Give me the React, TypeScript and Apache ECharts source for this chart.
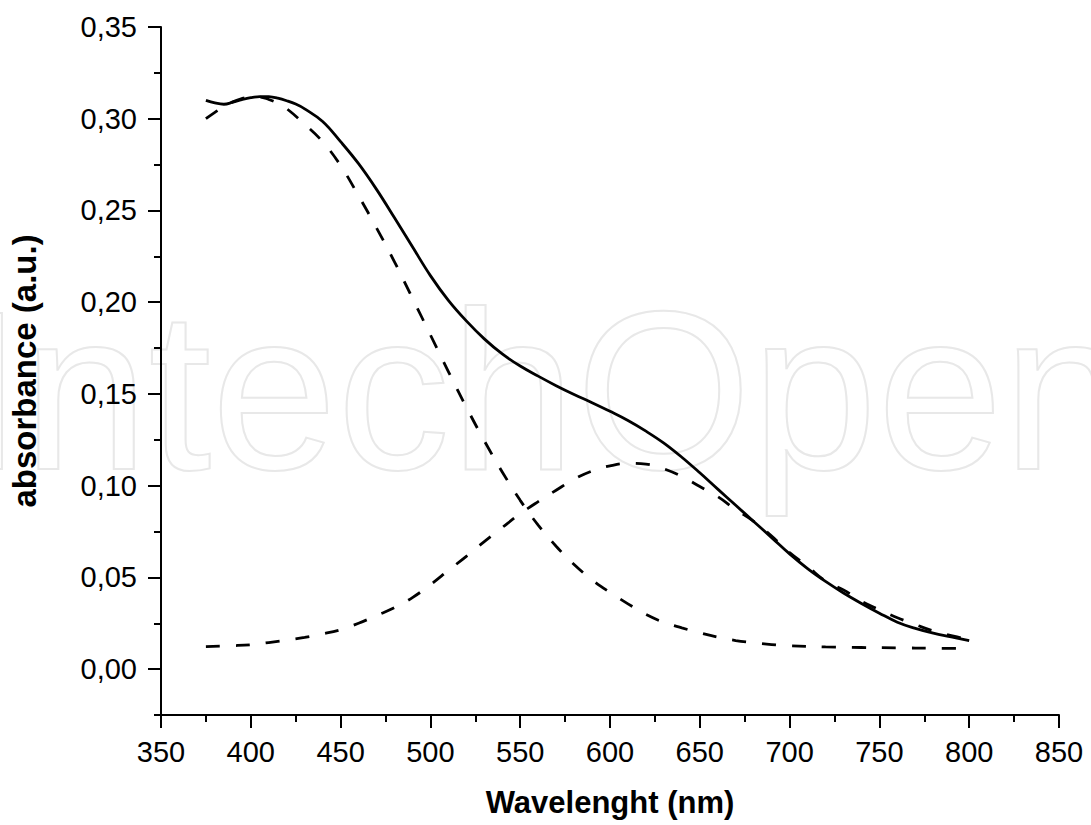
import React, { useEffect, useRef } from "react";
import * as echarts from "echarts";

// Measured spectrum (solid line)
const measuredWavelength = [375, 380, 385, 390, 395, 400, 405, 410, 415, 420, 425, 430, 440, 450, 460, 470, 480, 490, 500, 510, 520, 530, 540, 550, 560, 570, 580, 590, 600, 610, 620, 630, 640, 650, 660, 670, 680, 690, 700, 710, 720, 730, 740, 750, 760, 770, 780, 790, 800];
const measuredAbsorbance = [0.310, 0.3086, 0.3079, 0.309, 0.3104, 0.3115, 0.3121, 0.3120, 0.3112, 0.3098, 0.3080, 0.3054, 0.2985, 0.2875, 0.2755, 0.2615, 0.2460, 0.2302, 0.2145, 0.2010, 0.1898, 0.1800, 0.1718, 0.1652, 0.1597, 0.1545, 0.1497, 0.1452, 0.1405, 0.1355, 0.1297, 0.1232, 0.1155, 0.1070, 0.0981, 0.0893, 0.0805, 0.0717, 0.0628, 0.0548, 0.0478, 0.0415, 0.0358, 0.0305, 0.0256, 0.0222, 0.0196, 0.0176, 0.0156];

// Fitted band 1 (dashed, short-wavelength)
const band1Wavelength = [375, 380, 385, 390, 395, 400, 405, 410, 415, 420, 430, 440, 450, 460, 470, 480, 490, 500, 510, 520, 530, 540, 550, 560, 570, 580, 590, 600, 610, 620, 630, 640, 650, 660, 670, 680, 690, 700, 720, 740, 760, 780, 800];
const band1Absorbance = [0.300, 0.3035, 0.3065, 0.3092, 0.3110, 0.3118, 0.3118, 0.3105, 0.3085, 0.3055, 0.2970, 0.2875, 0.2745, 0.2580, 0.2405, 0.2220, 0.2022, 0.1822, 0.1622, 0.1428, 0.1245, 0.1075, 0.0920, 0.0785, 0.0670, 0.0570, 0.0487, 0.0418, 0.0356, 0.0298, 0.0255, 0.0225, 0.0198, 0.0174, 0.0156, 0.0144, 0.0134, 0.0127, 0.0121, 0.0118, 0.0116, 0.0114, 0.0113];

// Fitted band 2 (dashed, long-wavelength)
const band2Wavelength = [375, 390, 400, 410, 420, 430, 440, 450, 460, 470, 480, 490, 500, 510, 520, 530, 540, 550, 560, 570, 580, 590, 600, 610, 620, 630, 640, 650, 660, 670, 680, 690, 700, 710, 720, 730, 740, 750, 760, 770, 780, 790, 800];
const band2Absorbance = [0.0123, 0.0128, 0.0133, 0.0145, 0.0158, 0.0173, 0.0192, 0.0215, 0.0250, 0.0292, 0.0335, 0.0390, 0.0460, 0.0538, 0.0615, 0.0695, 0.0772, 0.0847, 0.0913, 0.0975, 0.1035, 0.1080, 0.1108, 0.1122, 0.1118, 0.1092, 0.1050, 0.0995, 0.0940, 0.0870, 0.0806, 0.0725, 0.0635, 0.0560, 0.0480, 0.0432, 0.0370, 0.0323, 0.0280, 0.0243, 0.0208, 0.0183, 0.0160];

const yMajorTicks = [0, 0.05, 0.1, 0.15, 0.2, 0.25, 0.3, 0.35];
const xTitle = "Wavelenght (nm)";
const yTitle = "absorbance (a.u.)";
const watermark = "IntechOpen";

const FONT = "'Liberation Sans', Arial, Helvetica, sans-serif";

function pairs(xs: number[], ys: number[]) {
  return xs.map((x, i) => [x, ys[i]]);
}

export default function App() {
  const ref = useRef<HTMLDivElement>(null);
  useEffect(() => {
    if (!ref.current) return;
    const chart = echarts.init(ref.current, undefined, { renderer: "svg" });
    const axisLine = { show: true, onZero: false, lineStyle: { color: "#000", width: 2 } };
    const option: any = {
      animation: false,
      backgroundColor: "#fff",
      grid: { left: 161, right: 32, top: 27, bottom: 110, containLabel: false },
      graphic: [
        {
          type: "text",
          z: -10,
          silent: true,
          x: -40,
          y: 390,
          style: {
            text: watermark,
            font: `normal 226px ${FONT}`,
            fill: "rgba(255,255,255,0)",
            stroke: "#e8e8e8",
            lineWidth: 2,
            align: "left",
            verticalAlign: "middle",
          },
        },
      ],
      xAxis: {
        type: "value",
        min: 350,
        max: 850,
        interval: 50,
        axisLine,
        axisTick: { show: true, length: 13, lineStyle: { color: "#000", width: 2 } },
        minorTick: { show: true, splitNumber: 2, length: 7, lineStyle: { color: "#000", width: 2 } },
        splitLine: { show: false },
        minorSplitLine: { show: false },
        axisLabel: { color: "#000", fontFamily: FONT, fontSize: 29, margin: 22 },
        name: xTitle,
        nameLocation: "middle",
        nameGap: 72,
        nameTextStyle: { color: "#000", fontFamily: FONT, fontSize: 31, fontWeight: "bold" },
      },
      yAxis: [
        {
          type: "value",
          min: -0.025,
          max: 0.35,
          interval: 0.025,
          axisLine,
          axisTick: { show: true, length: 7, lineStyle: { color: "#000", width: 2 } },
          axisLabel: { show: false },
          splitLine: { show: false },
          name: yTitle,
          nameLocation: "middle",
          nameGap: 120,
          nameTextStyle: { color: "#000", fontFamily: FONT, fontSize: 33, fontWeight: "bold" },
        },
        {
          type: "value",
          min: -0.025,
          max: 0.35,
          position: "left",
          axisLine: { show: false, onZero: false },
          axisTick: { show: true, length: 13, customValues: yMajorTicks, lineStyle: { color: "#000", width: 2 } },
          axisLabel: {
            show: true,
            customValues: yMajorTicks,
            color: "#000",
            fontFamily: FONT,
            fontSize: 29,
            margin: 24,
            formatter: (v: number) => v.toFixed(2).replace(".", ","),
          },
          splitLine: { show: false },
        },
      ],
      series: [
        {
          type: "line",
          yAxisIndex: 0,
          data: pairs(measuredWavelength, measuredAbsorbance),
          showSymbol: false,
          smooth: 0.4,
          lineStyle: { color: "#000", width: 2.8 },
          z: 5,
        },
        {
          type: "line",
          yAxisIndex: 0,
          data: pairs(band1Wavelength, band1Absorbance),
          showSymbol: false,
          smooth: 0.4,
          lineStyle: { color: "#000", width: 2.8, type: [14, 16] },
          z: 4,
        },
        {
          type: "line",
          yAxisIndex: 0,
          data: pairs(band2Wavelength, band2Absorbance),
          showSymbol: false,
          smooth: 0.4,
          lineStyle: { color: "#000", width: 2.8, type: [14, 16] },
          z: 4,
        },
      ],
    };
    chart.setOption(option);
    return () => chart.dispose();
  }, []);
  return (
    <div
      ref={ref}
      style={{ position: "fixed", left: 0, top: 0, width: 1091, height: 825, background: "#fff" }}
    />
  );
}
